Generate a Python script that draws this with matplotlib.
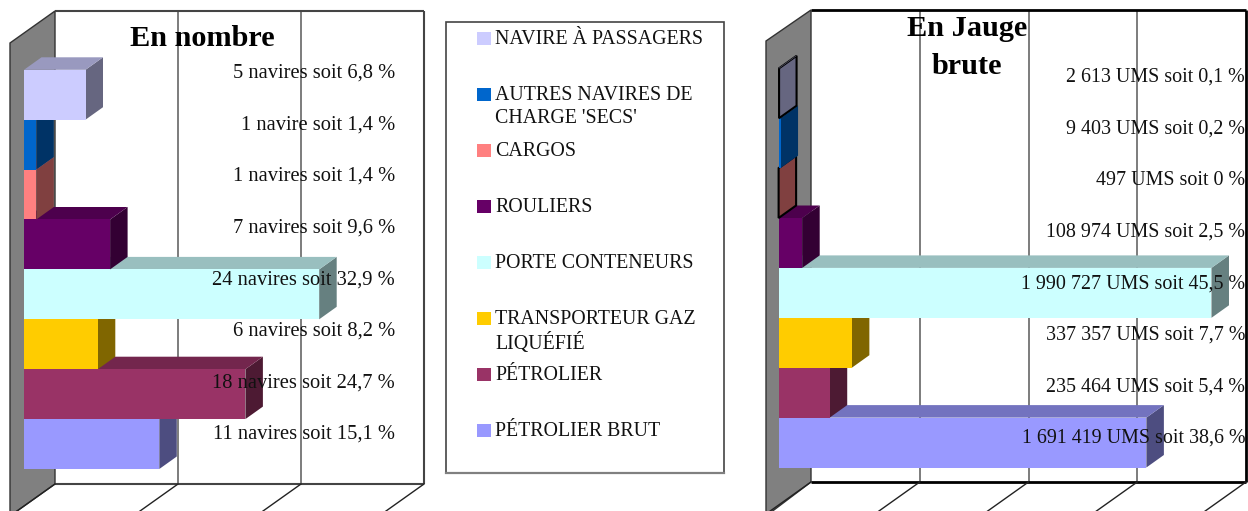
import matplotlib
matplotlib.use('Agg')
import matplotlib.pyplot as plt
from matplotlib.patches import Polygon, Rectangle
from matplotlib.transforms import Affine2D

W, H = 1248, 511

# bottom to top, same order as the bars
categories = ['PÉTROLIER BRUT', 'PÉTROLIER', 'TRANSPORTEUR GAZ\nLIQUÉFIÉ', 'PORTE CONTENEURS',
              'ROULIERS', 'CARGOS', "AUTRES NAVIRES DE\nCHARGE 'SECS'", 'NAVIRE À PASSAGERS']
colors = ['#9999FF', '#993366', '#FFCC00', '#CCFFFF', '#660066', '#FF8080', '#0066CC', '#CCCCFF']

nombre = [11, 18, 6, 24, 7, 1, 1, 5]
nombre_labels = ['11 navires soit 15,1 %', '18 navires soit 24,7 %', '6 navires soit 8,2 %',
                 '24 navires soit 32,9 %', '7 navires soit 9,6 %', '1 navires soit 1,4 %',
                 '1 navire soit 1,4 %', '5 navires soit 6,8 %']

jauge = [1691419, 235464, 337357, 1990727, 108974, 497, 9403, 2613]
jauge_labels = ['1 691 419 UMS soit 38,6 %', '235 464 UMS soit 5,4 %', '337 357 UMS soit 7,7 %',
                '1 990 727 UMS soit 45,5 %', '108 974 UMS soit 2,5 %', '497 UMS soit 0 %',
                '9 403 UMS soit 0,2 %', '2 613 UMS soit 0,1 %']

nombre_ticks = [0, 10, 20, 30]
jauge_ticks = [0, 500000, 1000000, 1500000, 2000000]

# pixel space, origin top left
px = Affine2D().scale(1, -1).translate(0, H)


def shade(c, f):
    rgb = matplotlib.colors.to_rgb(c)
    return tuple(v * f for v in rgb)


def chart(box, x0, scale, y0, values, labels, ticks, title, title_y, label_x, label_y0, label_fs,
          back_x, top_y, floor_y, wall_x, wall_top, frame, frame_lw, thin=()):
    left, right = box
    ax = fig.add_axes([left / W, 0, (right - left) / W, 1])
    slot = 49.9
    ax.set_xlim((left - x0) / scale, (right - x0) / scale)
    ax.set_ylim((y0 - H) / slot, y0 / slot)
    ax.axis('off')

    # walls and floor
    ax.add_patch(Polygon([(back_x, top_y), (wall_x, wall_top), (wall_x, H + 5), (back_x, floor_y)],
                         closed=True, fc='#808080', ec='#333333', lw=1, transform=px, zorder=1))
    off = (back_x - x0) / scale
    gx = [t + off for t in ticks]
    ax.vlines(gx[1:-1], (y0 - floor_y) / slot, (y0 - top_y) / slot, color='#666666', lw=1.2, zorder=1)
    ax.vlines(gx[-1], (y0 - floor_y) / slot, (y0 - top_y) / slot, color=frame, lw=frame_lw, zorder=1)
    ax.hlines([(y0 - floor_y) / slot, (y0 - top_y) / slot], gx[0], gx[-1], color=frame, lw=frame_lw, zorder=1)
    for g in gx:
        xp = x0 + g * scale
        ax.plot([xp, xp - 45], [floor_y, floor_y + 32], color='#222222', lw=1, transform=px, zorder=1)

    # bars from the bottom up, each hides the top face of the one below
    dx = 17.5 / scale
    dy = 12.5 / slot
    for i, (v, c) in enumerate(zip(values, colors)):
        z = 2 + i
        edge = 'black' if i in thin else 'none'
        lw = 1.5 if i in thin else 0
        ax.add_patch(Polygon([(v, i), (v + dx, i + dy), (v + dx, i + 1 + dy), (v, i + 1)],
                             closed=True, fc=shade(c, 0.5), ec=edge, lw=lw, zorder=z))
        ax.add_patch(Polygon([(0, i + 1), (dx, i + 1 + dy), (v + dx, i + 1 + dy), (v, i + 1)],
                             closed=True, fc=shade(c, 0.75), ec='none', zorder=z))
        ax.barh(i + 0.5, v, height=1, left=0, color=c, zorder=z + 0.5)

    for i, lab in enumerate(labels):
        ax.text(label_x, label_y0 - i * 51.6, lab, transform=px, ha='right', va='center',
                fontsize=label_fs, color='#111111', zorder=20)
    ax.text(title[0], title_y, title[1], transform=px, ha='center', va='center', fontsize=21.8,
            fontweight='bold', linespacing=1.5, zorder=21)
    return ax


plt.rcParams['font.family'] = ['Liberation Serif', 'DejaVu Serif']
fig = plt.figure(figsize=(W / 100, H / 100), dpi=100, facecolor='white')

chart((0, 440), 24, 12.3, 469, nombre, nombre_labels, nombre_ticks, (202, 'En nombre'), 38,
      395, 434.5, 14.8, 55, 11, 484, 10, 43, '#444444', 1.5)
chart((755, 1248), 778.5, 2.175e-4, 467.5, jauge, jauge_labels, jauge_ticks, (967, 'En Jauge\nbrute'), 47.5,
      1245, 438.5, 14.4, 811, 10, 482, 766, 41, 'black', 2, thin=(5, 7))

# legend box
lg = fig.add_axes([0, 0, 1, 1], facecolor='none')
lg.axis('off')
lg.set_xlim(0, W)
lg.set_ylim(H, 0)
lg.add_patch(Rectangle((446, 22), 278, 451, fc='white', ec='#444444', lw=1.2))
lg.plot([446, 724], [473, 473], color='#808080', lw=1.6)
for i, (cat, c) in enumerate(zip(categories, colors)):
    y = 430.5 - i * 56
    lg.add_patch(Rectangle((477, y - 6.5), 14, 13, fc=c, ec='none'))
    lg.text(495, y - 9, cat, ha='left', va='top', fontsize=14.3, color='#111111', linespacing=1.3)

fig.savefig('out.png', dpi=100)
